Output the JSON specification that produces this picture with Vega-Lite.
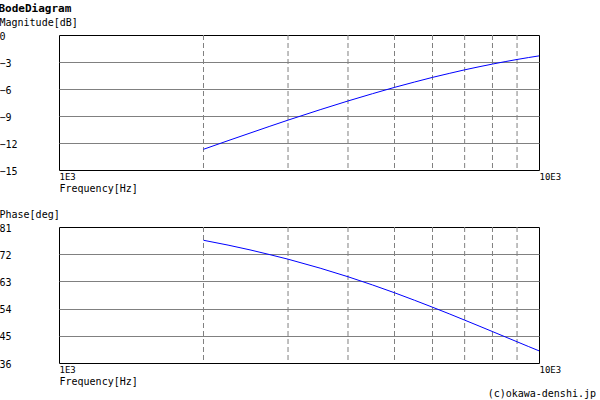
{
  "$schema": "https://vega.github.io/schema/vega-lite/v6.json",
  "background": "white",
  "padding": {"left": -2, "top": 2, "right": 3, "bottom": 0},
  "title": {"text": "BodeDiagram", "anchor": "start", "frame": "bounds", "font": "DejaVu Sans Mono", "fontSize": 11, "fontWeight": "bold", "color": "black", "offset": 3},
  "config": {
    "font": "DejaVu Sans Mono",
    "view": {"stroke": "black", "strokeWidth": 1},
    "axis": {"domain": false, "ticks": false, "tickSize": 0, "labelColor": "black", "titleColor": "black", "labelFontSize": 10, "titleFontSize": 10, "titleFontWeight": "normal", "gridColor": "#808080", "gridWidth": 1, "gridOpacity": 1},
    "axisY": {"labelAlign": "left", "labelPadding": 60, "labelBaseline": "middle", "labelOffset": 1, "titleAngle": 0, "titleAlign": "left", "titleBaseline": "middle", "titleX": -60, "titleY": -13},
    "axisX": {"labelAlign": "left", "labelBaseline": "top", "labelPadding": 2, "labelFontSize": 9, "labelFlush": false, "labelOverlap": false, "grid": false, "titleAlign": "left", "titleBaseline": "middle", "titleX": 0, "titleY": 18}
  },
  "datasets": {
    "bode": [
      {"f": 2000, "mag": -12.70, "phase": 76.61},
      {"f": 2250, "mag": -11.74, "phase": 75.01},
      {"f": 2500, "mag": -10.90, "phase": 73.43},
      {"f": 2750, "mag": -10.14, "phase": 71.85},
      {"f": 3000, "mag": -9.46, "phase": 70.35},
      {"f": 3500, "mag": -8.30, "phase": 67.38},
      {"f": 4000, "mag": -7.33, "phase": 64.54},
      {"f": 4500, "mag": -6.52, "phase": 61.82},
      {"f": 5000, "mag": -5.82, "phase": 59.24},
      {"f": 5500, "mag": -5.23, "phase": 56.78},
      {"f": 6000, "mag": -4.71, "phase": 54.46},
      {"f": 6500, "mag": -4.27, "phase": 52.27},
      {"f": 7000, "mag": -3.87, "phase": 50.19},
      {"f": 7500, "mag": -3.53, "phase": 48.24},
      {"f": 8000, "mag": -3.23, "phase": 46.40},
      {"f": 8500, "mag": -2.96, "phase": 44.66},
      {"f": 9000, "mag": -2.72, "phase": 43.03},
      {"f": 9500, "mag": -2.51, "phase": 41.48},
      {"f": 10000, "mag": -2.32, "phase": 40.03}
    ],
    "vgrid": [{"f": 2000}, {"f": 3000}, {"f": 4000}, {"f": 5000}, {"f": 6000}, {"f": 7000}, {"f": 8000}, {"f": 9000}]
  },
  "bounds": "flush",
  "spacing": 57,
  "vconcat": [
    {
      "width": 480,
      "height": 135,
      "encoding": {
        "x": {"field": "f", "type": "quantitative", "scale": {"type": "log", "domain": [1000, 10000], "nice": false},
          "axis": {"title": "Frequency[Hz]", "values": [1000, 10000], "labelExpr": "datum.value == 1000 ? '1E3' : '10E3'"}}
      },
      "layer": [
        {"data": {"name": "vgrid"}, "mark": {"type": "rule", "color": "#808080", "strokeWidth": 1, "strokeDash": [5, 3]}},
        {"data": {"name": "bode"}, "mark": {"type": "line", "color": "#0000ff", "strokeWidth": 1},
          "encoding": {"y": {"field": "mag", "type": "quantitative", "scale": {"domain": [-15, 0], "nice": false, "zero": false},
            "axis": {"title": "Magnitude[dB]", "values": [0, -3, -6, -9, -12, -15], "grid": true,
              "gridOpacity": {"condition": {"test": "datum.value == 0 || datum.value == -15", "value": 0}, "value": 1}}}}}
      ]
    },
    {
      "width": 480,
      "height": 136,
      "title": {"text": "(c)okawa-denshi.jp", "orient": "bottom", "anchor": "end", "frame": "group", "fontSize": 10, "fontWeight": "normal", "color": "black", "font": "DejaVu Sans Mono", "dx": 57, "offset": 3},
      "encoding": {
        "x": {"field": "f", "type": "quantitative", "scale": {"type": "log", "domain": [1000, 10000], "nice": false},
          "axis": {"title": "Frequency[Hz]", "values": [1000, 10000], "labelExpr": "datum.value == 1000 ? '1E3' : '10E3'"}}
      },
      "layer": [
        {"data": {"name": "vgrid"}, "mark": {"type": "rule", "color": "#808080", "strokeWidth": 1, "strokeDash": [5, 3]}},
        {"data": {"name": "bode"}, "mark": {"type": "line", "color": "#0000ff", "strokeWidth": 1},
          "encoding": {"y": {"field": "phase", "type": "quantitative", "scale": {"domain": [36, 81], "nice": false, "zero": false},
            "axis": {"title": "Phase[deg]", "values": [81, 72, 63, 54, 45, 36], "grid": true,
              "gridOpacity": {"condition": {"test": "datum.value == 81 || datum.value == 36", "value": 0}, "value": 1}}}}}
      ]
    }
  ]
}
